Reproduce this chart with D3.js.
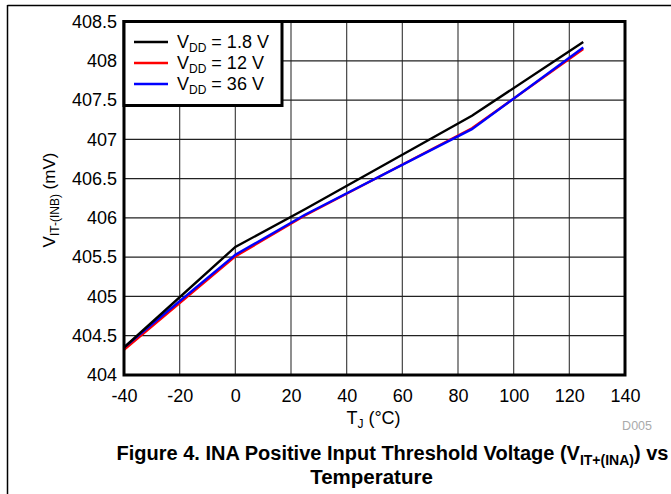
<!DOCTYPE html>
<html lang="en">
<head>
    <meta charset="UTF-8">
    <title>INA Positive Input Threshold Voltage vs Temperature</title>
    <script src="https://d3js.org/d3.v7.min.js"></script>
    <style>
        body { margin: 0; background: white; }
        svg { display: block; font-family: Arial, "Liberation Sans", sans-serif; }
    </style>
</head>
<body>
    <div id="plot"></div>
    <script>
        // Data
        const temps = [-40, 0, 25, 85, 125];
        const vdd18 = [404.35, 405.63, 406.11, 407.30, 408.24];
        const vdd12 = [404.32, 405.51, 406.03, 407.14, 408.15];
        const vdd36 = [404.35, 405.53, 406.04, 407.13, 408.17];
        const seriesNames = ["1.8 V", "12 V", "36 V"];
        const seriesColors = ["#000000", "#ff0000", "#0000ff"];
        const xTicks = [-40, -20, 0, 20, 40, 60, 80, 100, 120, 140];
        const yTicks = [404, 404.5, 405, 405.5, 406, 406.5, 407, 407.5, 408, 408.5];

        const width = 671;
        const height = 494;
        const margin = { top: 21.5, right: 46, bottom: 119, left: 124 };

        const svg = d3.select("#plot")
            .append("svg")
            .attr("width", width)
            .attr("height", height);

        // page frame lines
        svg.append("line")
            .attr("x1", 7.5).attr("x2", width)
            .attr("y1", 5.5).attr("y2", 5.5)
            .attr("stroke", "black").attr("stroke-width", 1.5);
        svg.append("line")
            .attr("x1", 7.5).attr("x2", 7.5)
            .attr("y1", 5).attr("y2", height)
            .attr("stroke", "black").attr("stroke-width", 1.5);

        const x = d3.scaleLinear()
            .domain([-40, 140])
            .range([margin.left, width - margin.right]);

        const y = d3.scaleLinear()
            .domain([404, 408.5])
            .range([height - margin.bottom, margin.top]);

        // gridlines
        svg.append("g")
            .selectAll("line")
            .data(xTicks)
            .enter()
            .append("line")
            .attr("x1", d => x(d)).attr("x2", d => x(d))
            .attr("y1", y(404)).attr("y2", y(408.5))
            .attr("stroke", "#444").attr("stroke-width", 1.2);

        svg.append("g")
            .selectAll("line")
            .data(yTicks)
            .enter()
            .append("line")
            .attr("x1", x(-40)).attr("x2", x(140))
            .attr("y1", d => y(d)).attr("y2", d => y(d))
            .attr("stroke", "#222").attr("stroke-width", 1.2);

        // axes (labels only)
        const xAxis = svg.append("g")
            .attr("transform", `translate(0,${y(404)})`)
            .call(d3.axisBottom(x).tickValues(xTicks).tickSize(0).tickPadding(14).tickFormat(d => String(d)));
        xAxis.select(".domain").remove();
        xAxis.selectAll("text")
            .attr("font-size", "18px").attr("fill", "black")
            .attr("font-family", "Arial, sans-serif");

        const yAxis = svg.append("g")
            .attr("transform", `translate(${x(-40)},0)`)
            .call(d3.axisLeft(y).tickValues(yTicks).tickSize(0).tickPadding(7).tickFormat(d => String(d)));
        yAxis.select(".domain").remove();
        yAxis.selectAll("text")
            .attr("font-size", "18px").attr("fill", "black")
            .attr("font-family", "Arial, sans-serif");

        // series lines
        const allSeries = [vdd18, vdd12, vdd36];
        const line = d3.line()
            .x((d, i) => x(temps[i]))
            .y(d => y(d));

        [1, 2, 0].forEach(k => {
            svg.append("path")
                .datum(allSeries[k])
                .attr("d", line)
                .attr("fill", "none")
                .attr("stroke", seriesColors[k])
                .attr("stroke-width", 2.4);
        });

        // plot frame
        svg.append("rect")
            .attr("x", x(-40)).attr("y", y(408.5))
            .attr("width", x(140) - x(-40))
            .attr("height", y(404) - y(408.5))
            .attr("fill", "none")
            .attr("stroke", "black").attr("stroke-width", 3);

        // legend
        const legend = svg.append("g");
        legend.append("rect")
            .attr("x", x(-40)).attr("y", y(408.5))
            .attr("width", 158).attr("height", 84)
            .attr("fill", "white")
            .attr("stroke", "black").attr("stroke-width", 3);

        seriesNames.forEach((name, i) => {
            const ly = 42 + i * 21;
            legend.append("line")
                .attr("x1", 134).attr("x2", 168)
                .attr("y1", ly).attr("y2", ly)
                .attr("stroke", seriesColors[i]).attr("stroke-width", 2.4);
            const t = legend.append("text")
                .attr("x", 177).attr("y", ly + 6)
                .attr("font-size", "18px")
                .attr("fill", "black");
            t.append("tspan").text("V");
            t.append("tspan").attr("font-size", "12px").attr("dy", 4).text("DD");
            t.append("tspan").attr("dy", -4).text(" = " + name);
        });

        // x axis title
        const xt = svg.append("text")
            .attr("x", 373.5).attr("y", 424)
            .attr("text-anchor", "middle")
            .attr("font-size", "18px");
        xt.append("tspan").text("T");
        xt.append("tspan").attr("font-size", "12px").attr("dy", 4).text("J");
        xt.append("tspan").attr("dy", -4).text(" (°C)");

        // y axis title
        const yt = svg.append("text")
            .attr("transform", "translate(55,200) rotate(-90)")
            .attr("text-anchor", "middle")
            .attr("font-size", "17px");
        yt.append("tspan").text("V");
        yt.append("tspan").attr("font-size", "12px").attr("dy", 4).text("IT-(INB)");
        yt.append("tspan").attr("dy", -4).text(" (mV)");

        // figure id
        svg.append("text")
            .attr("x", 652).attr("y", 430)
            .attr("text-anchor", "end")
            .attr("font-size", "12.5px")
            .attr("fill", "#aaaaaa")
            .text("D005");

        // caption
        const cap = svg.append("text")
            .attr("x", 392.5).attr("y", 460)
            .attr("text-anchor", "middle")
            .attr("font-size", "20px")
            .attr("font-weight", "bold");
        cap.append("tspan").text("Figure 4. INA Positive Input Threshold Voltage (V");
        cap.append("tspan").attr("font-size", "14px").attr("dy", 5).text("IT+(INA)");
        cap.append("tspan").attr("dy", -5).text(") vs");

        svg.append("text")
            .attr("x", 371.5).attr("y", 484)
            .attr("text-anchor", "middle")
            .attr("font-size", "20.5px")
            .attr("font-weight", "bold")
            .text("Temperature");
    </script>
</body>
</html>
